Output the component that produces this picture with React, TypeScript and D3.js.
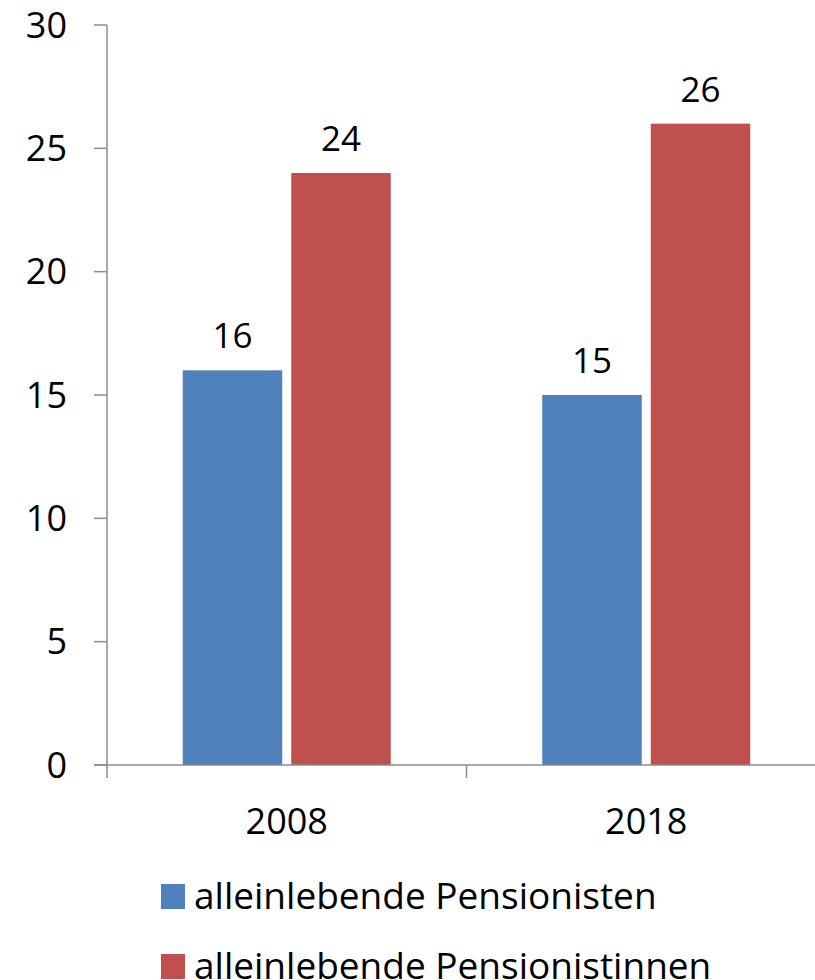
import * as d3 from 'd3';
import * as React from 'react';

const { useRef, useEffect } = React;

const width = 815;
const height = 980;
const margin = { top: 25, right: -11, bottom: 215, left: 107 };

const years = ['2008', '2018'];
const seriesNames = ['alleinlebende Pensionisten', 'alleinlebende Pensionistinnen'];
const pensionisten = [16, 15];
const pensionistinnen = [24, 26];
const yTicks = [0, 5, 10, 15, 20, 25, 30];
const colors = ['#4f81bd', '#c0504d'];

const font = '"Open Sans", sans-serif';
const axisColor = '#8c8c8c';

export default () => {
  const rootRef = useRef<SVGSVGElement>(null);

  useEffect(() => {
    const svgEl = rootRef.current;
    if (!svgEl) {
      return;
    }
    const svg = d3.select(svgEl);
    svg.selectAll('*').remove();

    const values = [pensionisten, pensionistinnen];

    const x0 = d3
      .scaleBand<string>()
      .domain(years)
      .range([margin.left, width - margin.right]);

    const groupWidth = 208;
    const x1 = d3
      .scaleBand<number>()
      .domain([0, 1])
      .range([0, groupWidth])
      .paddingInner(0.083);

    const y = d3
      .scaleLinear()
      .domain([0, 30])
      .range([height - margin.bottom, margin.top]);

    // y axis
    const yAxis = svg.append('g');
    yAxis
      .append('line')
      .attr('x1', margin.left)
      .attr('x2', margin.left)
      .attr('y1', y(30))
      .attr('y2', y(0))
      .attr('stroke', axisColor)
      .attr('stroke-width', 1.5);
    yAxis
      .selectAll('line.tick')
      .data(yTicks)
      .join('line')
      .attr('class', 'tick')
      .attr('x1', margin.left - 13)
      .attr('x2', margin.left)
      .attr('y1', d => y(d))
      .attr('y2', d => y(d))
      .attr('stroke', axisColor)
      .attr('stroke-width', 1.5);
    yAxis
      .selectAll('text')
      .data(yTicks)
      .join('text')
      .attr('x', 67)
      .attr('y', d => y(d))
      .attr('dy', '0.35em')
      .attr('text-anchor', 'end')
      .style('font', `36px ${font}`)
      .text(d => String(d));

    // bars
    years.forEach((yr, i) => {
      const gx = (x0(yr) as number) + (x0.bandwidth() - groupWidth) / 2;
      values.forEach((vals, s) => {
        const bx = gx + (x1(s) as number);
        svg
          .append('rect')
          .attr('x', bx)
          .attr('y', y(vals[i]))
          .attr('width', x1.bandwidth())
          .attr('height', y(0) - y(vals[i]))
          .attr('fill', colors[s]);
        svg
          .append('text')
          .attr('x', bx + x1.bandwidth() / 2)
          .attr('y', y(vals[i]) - 22)
          .attr('text-anchor', 'middle')
          .style('font', `35px ${font}`)
          .text(String(vals[i]));
      });
    });

    // x axis
    const xAxis = svg.append('g');
    xAxis
      .append('line')
      .attr('x1', margin.left - 13)
      .attr('x2', width)
      .attr('y1', y(0))
      .attr('y2', y(0))
      .attr('stroke', axisColor)
      .attr('stroke-width', 1.5);
    const boundaries = [...years.map(yr => x0(yr) as number), width - margin.right];
    xAxis
      .selectAll('line.tick')
      .data(boundaries)
      .join('line')
      .attr('class', 'tick')
      .attr('x1', d => d)
      .attr('x2', d => d)
      .attr('y1', y(0))
      .attr('y2', y(0) + 13)
      .attr('stroke', axisColor)
      .attr('stroke-width', 1.5);
    xAxis
      .selectAll('text')
      .data(years)
      .join('text')
      .attr('x', d => (x0(d) as number) + x0.bandwidth() / 2)
      .attr('y', 834)
      .attr('text-anchor', 'middle')
      .style('font', `36px ${font}`)
      .text(d => d);

    // legend
    const legend = svg
      .append('g')
      .selectAll('g')
      .data(seriesNames)
      .join('g')
      .attr('transform', (d, i) => `translate(161,${884 + i * 70})`);
    legend
      .append('rect')
      .attr('width', 24)
      .attr('height', 25)
      .attr('fill', (d, i) => colors[i]);
    legend
      .append('text')
      .attr('x', 33)
      .attr('y', 25)
      .style('font', `37px ${font}`)
      .text(d => d);
  }, []);

  return (
    <svg
      ref={rootRef}
      width={width}
      height={height}
      style={{ position: 'absolute', left: 0, top: 0, background: '#fff' }}
    />
  );
};
